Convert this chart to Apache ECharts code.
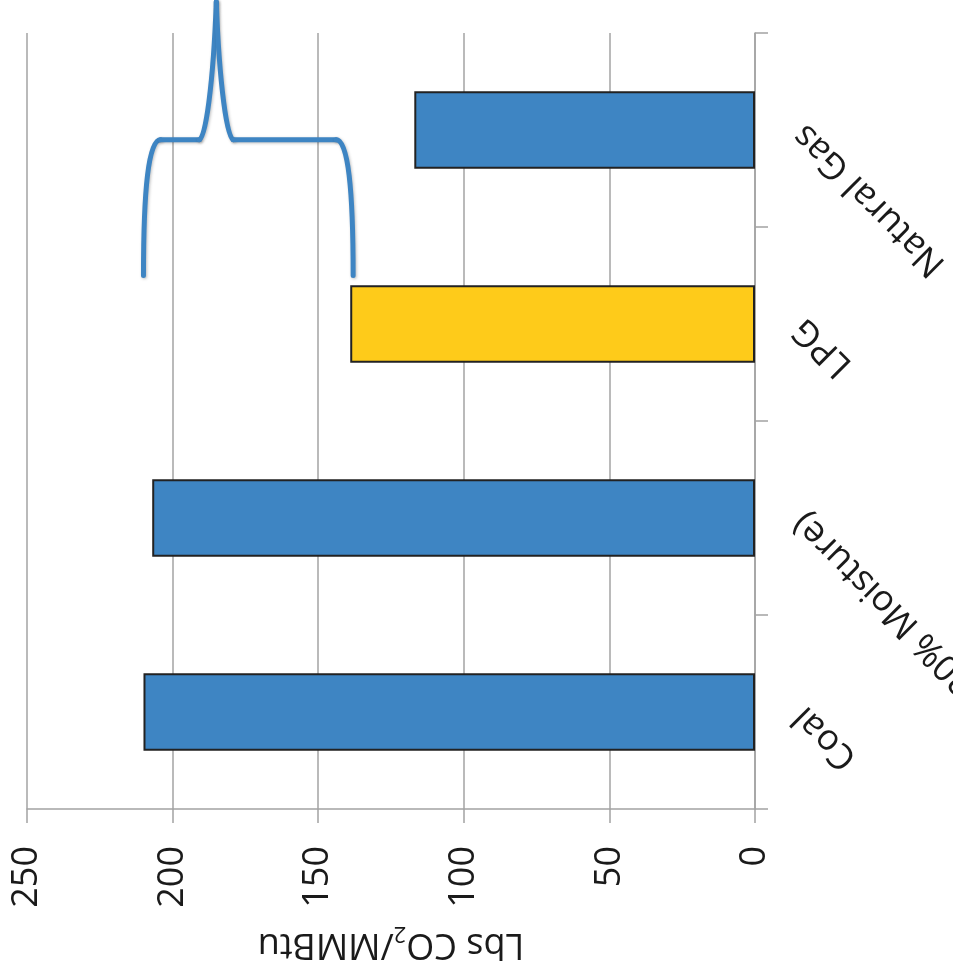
<!DOCTYPE html>
<html>
<head>
<meta charset="utf-8">
<script src="https://cdn.jsdelivr.net/npm/echarts@6/dist/echarts.min.js"></script>
<style>
html, body { margin: 0; padding: 0; background: #fff; }
#main { width: 953px; height: 978px; }
</style>
</head>
<body>
<div id="main"></div>
<script>
// fuels, bottom to top
var fuels = ['Coal', 'Wood (20% Moisture)', 'LPG', 'Natural Gas'];
var co2 = [210, 207, 139, 117];
var barColors = ['#3e85c3', '#3e85c3', '#fecb1a', '#3e85c3'];
var valueTicks = [0, 50, 100, 150, 200, 250];
// brace drawn over the bars, in axis values
var braceFrom = 210;
var braceTip = 185;
var braceTo = 138;

var axisGray = '#a3a3a3';
var font = 'Open Sans';

var dom = document.getElementById('main');
var chart = echarts.init(dom);

var barData = [];
for (var i = 0; i < co2.length; i++) {
	barData.push({
		value: co2[i],
		itemStyle: { color: barColors[i] }
	});
}

var option = {
	animation: false,
	grid: {
		left: 27,
		right: 198,
		top: 33,
		bottom: 169,
		containLabel: false,
		outerBoundsMode: 'none'
	},
	xAxis: {
		type: 'value',
		inverse: true,
		position: 'bottom',
		min: valueTicks[0],
		max: valueTicks[valueTicks.length - 1],
		interval: valueTicks[1] - valueTicks[0],
		name: '{a|Lbs CO}{s|2}{a|/MMBtu}',
		nameLocation: 'middle',
		nameRotate: 180,
		nameGap: 113,
		nameTextStyle: {
			rich: {
				a: { fontFamily: font, fontSize: 36, lineHeight: 44, color: '#1a1a1a' },
				s: { fontFamily: font, fontSize: 22, lineHeight: 44, verticalAlign: 'bottom', color: '#1a1a1a' }
			}
		},
		axisLine: { show: true, lineStyle: { color: axisGray, width: 1.5 } },
		axisTick: { show: true, length: 14, lineStyle: { color: axisGray, width: 1.5 } },
		splitLine: { show: true, lineStyle: { color: axisGray, width: 1.5 } },
		axisLabel: {
			rotate: 90,
			margin: 37,
			fontFamily: font,
			fontSize: 36,
			color: '#1a1a1a'
		}
	},
	yAxis: {
		type: 'category',
		position: 'right',
		data: fuels,
		axisLine: { show: true, lineStyle: { color: axisGray, width: 1.5 } },
		axisTick: { show: true, length: 13, lineStyle: { color: axisGray, width: 1.5 } },
		splitLine: { show: false },
		axisLabel: {
			rotate: 135,
			margin: 44,
			interval: 0,
			fontFamily: font,
			fontSize: 36,
			color: '#1a1a1a'
		}
	},
	series: [{
		type: 'bar',
		data: barData,
		barCategoryGap: '60%',
		itemStyle: {
			borderColor: '#222',
			borderWidth: 2
		},
		z: 3
	}]
};
chart.setOption(option, true);

function drawBrace() {
	var x1 = chart.convertToPixel({ xAxisIndex: 0 }, braceFrom);
	var xt = chart.convertToPixel({ xAxisIndex: 0 }, braceTip);
	var x2 = chart.convertToPixel({ xAxisIndex: 0 }, braceTo);
	var yTop = chart.convertToPixel({ yAxisIndex: 0 }, fuels[3]);
	var yLow = chart.convertToPixel({ yAxisIndex: 0 }, fuels[2]);
	var band = yLow - yTop;
	var yBase = yTop + 0.75 * band;
	var yMid = yTop + 0.05 * band;
	var yTip = yTop - 0.66 * band;

	var braceStyle = {
		fill: null,
		stroke: '#3e85c3',
		lineWidth: 5,
		lineCap: 'round',
		shadowBlur: 3,
		shadowOffsetX: 1,
		shadowOffsetY: 1,
		shadowColor: 'rgba(0,0,0,0.25)'
	};
	var parts = [
		// left leg
		{ type: 'bezierCurve', shape: { x1: x1, y1: yBase, cpx1: x1, cpy1: yMid + 50, cpx2: x1 + 5, cpy2: yMid, x2: x1 + 17, y2: yMid } },
		{ type: 'line', shape: { x1: x1 + 17, y1: yMid, x2: xt - 17, y2: yMid } },
		// tip
		{ type: 'bezierCurve', shape: { x1: xt - 17, y1: yMid, cpx1: xt - 11, cpy1: yMid, cpx2: xt - 3, cpy2: yMid - 55, x2: xt, y2: yTip } },
		{ type: 'bezierCurve', shape: { x1: xt, y1: yTip, cpx1: xt + 3, cpy1: yMid - 55, cpx2: xt + 11, cpy2: yMid, x2: xt + 17, y2: yMid } },
		{ type: 'line', shape: { x1: xt + 17, y1: yMid, x2: x2 - 17, y2: yMid } },
		// right leg
		{ type: 'bezierCurve', shape: { x1: x2 - 17, y1: yMid, cpx1: x2 - 5, cpy1: yMid, cpx2: x2, cpy2: yMid + 50, x2: x2, y2: yBase } }
	];
	for (var k = 0; k < parts.length; k++) {
		parts[k].z = 10;
		parts[k].style = braceStyle;
	}
	chart.setOption({
		graphic: [{ type: 'group', children: parts }]
	});
}
drawBrace();

window.addEventListener('resize', function (e) {
	chart.resize();
	drawBrace();
});
</script>
</body>
</html>
